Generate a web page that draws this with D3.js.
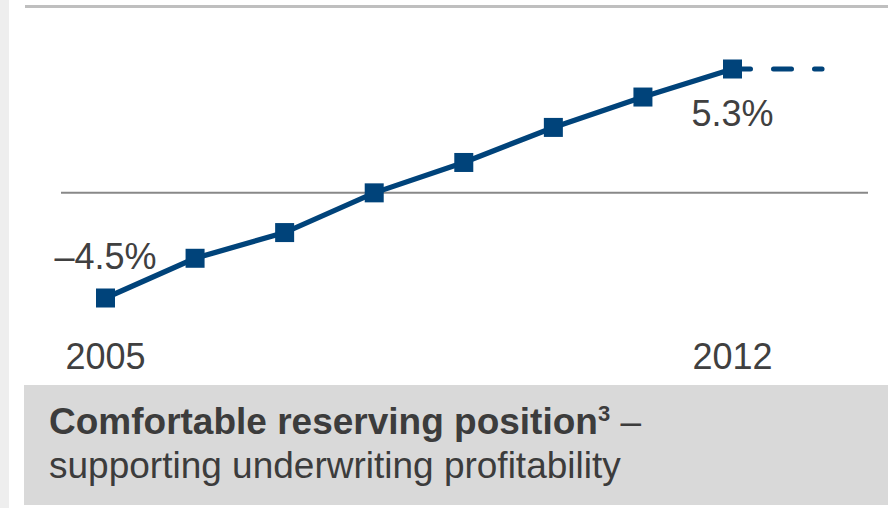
<!DOCTYPE html>
<html>
<head>
<meta charset="utf-8">
<script src="https://cdn.jsdelivr.net/npm/d3@7"></script>
<style>
  html, body { margin: 0; padding: 0; background: #ffffff; }
  svg { display: block; font-family: "Liberation Sans", Arial, sans-serif; }
</style>
</head>
<body>
<svg id="chart" width="888" height="508"></svg>
<script>
// Reserve ratio trend, 2005–2012 (%)
const years = [2005, 2006, 2007, 2008, 2009, 2010, 2011, 2012];
const values = [-4.5, -2.8, -1.7, 0.0, 1.3, 2.8, 4.1, 5.3];
const yearLabels = ["2005", "2012"];
const valueLabels = ["\u20134.5%", "5.3%"];
const captionBold = "Comfortable reserving position";
const captionSup = "3";
const captionDash = " \u2013";
const captionLine2 = "supporting underwriting profitability";

const W = 888, H = 508;
const navy = "#00437a";
const textCol = "#404040";

const svg = d3.select("#chart");

const x = d3.scaleLinear().domain([2005, 2012]).range([105.5, 732.5]);
const y = d3.scaleLinear().domain([-4.5, 5.3]).range([298, 69]);

// side strip
svg.append("rect").attr("x", 0).attr("y", 0).attr("width", 9).attr("height", H).attr("fill", "#eeeeee");

// top rule
svg.append("line").attr("x1", 25).attr("x2", W).attr("y1", 6.5).attr("y2", 6.5)
  .attr("stroke", "#bfbfbf").attr("stroke-width", 3);

// zero line
svg.append("line").attr("x1", 61).attr("x2", 868).attr("y1", y(0)).attr("y2", y(0))
  .attr("stroke", "#888888").attr("stroke-width", 2);

const data = years.map((yr, i) => ({ yr, v: values[i] }));
const last = data[data.length - 1];

// dashed continuation one year beyond the last point
svg.append("line")
  .attr("x1", x(last.yr)).attr("x2", x(last.yr + 1))
  .attr("y1", y(last.v)).attr("y2", y(last.v))
  .attr("stroke", navy).attr("stroke-width", 5)
  .attr("stroke-linecap", "round").attr("stroke-dasharray", "18,23");

// trend line
svg.append("path").datum(data)
  .attr("d", d3.line().x(d => x(d.yr)).y(d => y(d.v)))
  .attr("fill", "none").attr("stroke", navy).attr("stroke-width", 5.3);

// square markers
const ms = 19;
svg.selectAll("rect.marker").data(data).join("rect")
  .attr("class", "marker")
  .attr("x", d => x(d.yr) - ms / 2).attr("y", d => y(d.v) - ms / 2)
  .attr("width", ms).attr("height", ms).attr("fill", navy);

// value labels
const first = data[0];
svg.append("text").attr("x", x(first.yr)).attr("y", y(first.v) - 29)
  .attr("text-anchor", "middle").attr("font-size", 36).attr("fill", textCol)
  .text(valueLabels[0]);
svg.append("text").attr("x", x(last.yr)).attr("y", y(last.v) + 57)
  .attr("text-anchor", "middle").attr("font-size", 36).attr("fill", textCol)
  .text(valueLabels[1]);

// year labels
svg.selectAll("text.year").data([first.yr, last.yr]).join("text")
  .attr("class", "year")
  .attr("x", d => x(d)).attr("y", 369)
  .attr("text-anchor", "middle").attr("font-size", 36).attr("fill", textCol)
  .text((d, i) => yearLabels[i]);

// caption box
svg.append("rect").attr("x", 24).attr("y", 385).attr("width", W - 24).attr("height", 120)
  .attr("fill", "#d9d9d9");

const cap1 = svg.append("text").attr("x", 49).attr("y", 434)
  .attr("font-size", 37).attr("fill", "#3c3c3c");
cap1.append("tspan").attr("font-weight", "bold").text(captionBold);
cap1.append("tspan").attr("font-weight", "bold").attr("font-size", 22).attr("dy", -13).text(captionSup);
cap1.append("tspan").attr("dy", 13).text(captionDash);

svg.append("text").attr("x", 49).attr("y", 478)
  .attr("font-size", 37).attr("fill", "#3c3c3c")
  .text(captionLine2);
</script>
</body>
</html>
